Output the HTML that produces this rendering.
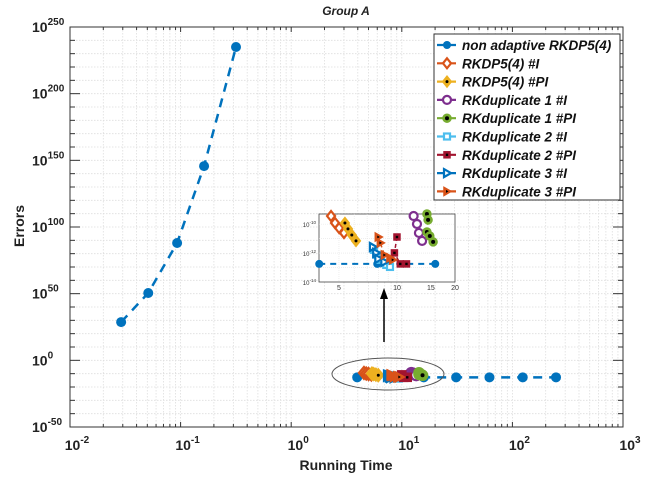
<!DOCTYPE html>
<html><head><meta charset="utf-8"><style>
html,body{margin:0;padding:0;background:#fff;}
svg{display:block;font-family:"Liberation Sans",Arial,sans-serif;}
</style></head><body>
<svg id="chart" width="647" height="485" viewBox="0 0 647 485"></svg>
<script>
// ---- data (errors are log10 exponents) ----
const baseTime = [0.029, 0.051, 0.093, 0.163, 0.317, 3.95, 7.9, 15.8, 31, 62, 124, 248];
const baseErrExp = [28.7, 50.5, 88, 145.7, 235, -12.75, -12.75, -12.75, -12.75, -12.75, -12.75, -12.75];
const baseBreakAfter = 4;
const dp_I_time = [4.55, 4.77, 5.01, 5.31];
const dp_I_err = [-9.44, -9.92, -10.27, -10.61];
const dp_PI_time = [5.37, 5.57, 5.83, 6.13];
const dp_PI_err = [-9.92, -10.33, -10.75, -11.16];
const d1_I_time = [12.2, 12.7, 13.0, 13.5];
const d1_I_err = [-9.44, -9.99, -10.61, -11.16];
const d1_PI_time = [14.3, 14.5, 14.3, 14.8, 15.4];
const d1_PI_err = [-9.3, -9.71, -10.54, -10.82, -11.23];
const d2_I_time = [7.6, 7.9, 8.2, 8.8, 9.2];
const d2_I_err = [-11.78, -12.13, -12.47, -12.82, -12.96];
const d2_PI_time = [10.0, 9.7, 10.4, 11.2];
const d2_PI_err = [-10.89, -11.99, -12.75, -12.75];
const d3_I_time = [7.5, 7.8, 8.0, 8.6];
const d3_I_err = [-11.58, -11.99, -12.4, -12.61];
const d3_PI_time = [8.0, 8.2, 8.6, 9.2, 9.5];
const d3_PI_err = [-10.89, -11.3, -12.13, -12.33, -12.47];
const xTickExp = [-2, -1, 0, 1, 2, 3];
const yTickExp = [-50, 0, 50, 100, 150, 200, 250];
const insetXTicks = [5, 10, 15, 20];
const insetYTickExp = [-10, -12, -14];
const legendLabels = ["non adaptive RKDP5(4)","RKDP5(4) #I","RKDP5(4) #PI","RKduplicate 1 #I","RKduplicate 1 #PI","RKduplicate 2 #I","RKduplicate 2 #PI","RKduplicate 3 #I","RKduplicate 3 #PI"];

const NS = "http://www.w3.org/2000/svg";
const svg = document.getElementById('chart');
function mk(tag, attrs, parent){const e=document.createElementNS(NS,tag);for(const k in attrs)e.setAttribute(k,attrs[k]);(parent||svg).appendChild(e);return e;}

const L=70,R=623,T=27,B=427;
const X=v=>L+(Math.log10(v)+2)/5*(R-L);
const Y=e=>B-(e+50)/300*(B-T);
const iL=319,iR=455,iT=214,iB=282;
const iX=v=>iL+(Math.log10(v)-Math.log10(3.94))/(Math.log10(20)-Math.log10(3.94))*(iR-iL);
const iY=e=>iT+(-9.3-e)/(14-9.3)*(iB-iT);

mk('rect',{x:0,y:0,width:647,height:485,fill:'#fff'});
const grid=mk('g',{stroke:'#dedede','stroke-width':0.8,'stroke-dasharray':'1.5,1.5'});


for(let d=-2;d<3;d++)for(let m=1;m<10;m++){const x=X(m*Math.pow(10,d));if(x>L+0.5)mk('line',{x1:x,y1:T,x2:x,y2:B},grid);}
for(let e=-40;e<250;e+=10){mk('line',{x1:L,y1:Y(e),x2:R,y2:Y(e)},grid);}
const ax=mk('g',{stroke:'#333','stroke-width':1,fill:'none'});


mk('rect',{x:L,y:T,width:R-L,height:B-T},ax);
for(let d=-2;d<3;d++)for(let m=1;m<10;m++){const x=X(m*Math.pow(10,d));const len=m==1?5:3;mk('line',{x1:x,y1:B,x2:x,y2:B-len},ax);mk('line',{x1:x,y1:T,x2:x,y2:T+len},ax);}
for(let e=-40;e<250;e+=10){const len=e%50==0?10:5;mk('line',{x1:L,y1:Y(e),x2:L+len,y2:Y(e)},ax);mk('line',{x1:R,y1:Y(e),x2:R-len,y2:Y(e)},ax);}
xTickExp.forEach(e=>{const t=mk('text',{x:X(Math.pow(10,e))+7,y:450,'text-anchor':'middle','font-size':14,'font-weight':'bold',fill:'#222'});


t.innerHTML='10<tspan dy="-7" font-size="10">'+e+'</tspan>';});
yTickExp.forEach(e=>{const t=mk('text',{x:32,y:Y(e)+5,'text-anchor':'start','font-size':14,'font-weight':'bold',fill:'#222'});


t.innerHTML='10<tspan dy="-7" font-size="10">'+e+'</tspan>';});
let t=mk('text',{x:346,y:15,'text-anchor':'middle','font-size':12,'font-weight':'bold','font-style':'italic',fill:'#222'});t.textContent='Group A';


t=mk('text',{x:346,y:470,'text-anchor':'middle','font-size':14,'font-weight':'bold',fill:'#222'});t.textContent='Running Time';


t=mk('text',{x:0,y:0,transform:'translate(24,226) rotate(-90)','text-anchor':'middle','font-size':14,'font-weight':'bold',fill:'#222'});t.textContent='Errors';



const C={blue:'#0072BD',orange:'#D95319',yellow:'#EDB120',purple:'#7E2F8E',green:'#77AC30',cyan:'#4DBEEE',red:'#A2142F'};
function marker(g,type,x,y,col,s){
  s=s||4;
  if(type==='dot')mk('circle',{cx:x,cy:y,r:s,fill:col},g);
  else if(type==='diamond')mk('polygon',{points:`${x},${y-s-1} ${x+s},${y} ${x},${y+s+1} ${x-s},${y}`,fill:'#fff',stroke:col,'stroke-width':2.2},g);
  else if(type==='diamondPI'){mk('polygon',{points:`${x},${y-s-1} ${x+s},${y} ${x},${y+s+1} ${x-s},${y}`,fill:col,stroke:col,'stroke-width':2},g);mk('circle',{cx:x,cy:y,r:1.5,fill:'#000'},g);}
  else if(type==='circle')mk('circle',{cx:x,cy:y,r:s,fill:'#fff',stroke:col,'stroke-width':2.2},g);
  else if(type==='circlePI'){mk('circle',{cx:x,cy:y,r:s,fill:col,stroke:col,'stroke-width':1.5},g);mk('circle',{cx:x,cy:y,r:2,fill:'#000'},g);}
  else if(type==='square')mk('rect',{x:x-s+1,y:y-s+1,width:2*s-2,height:2*s-2,fill:'#fff',stroke:col,'stroke-width':2.2},g);
  else if(type==='squarePI'){mk('rect',{x:x-s+1,y:y-s+1,width:2*s-2,height:2*s-2,fill:col,stroke:col,'stroke-width':1.5},g);mk('rect',{x:x-1.2,y:y-1.2,width:2.4,height:2.4,fill:'#000'},g);}
  else if(type==='tri')mk('polygon',{points:`${x-s+1},${y-s} ${x+s},${y} ${x-s+1},${y+s}`,fill:'#fff',stroke:col,'stroke-width':2.2},g);
  else if(type==='triPI'){mk('polygon',{points:`${x-s+1},${y-s} ${x+s},${y} ${x-s+1},${y+s}`,fill:col,stroke:col,'stroke-width':1.5},g);mk('polygon',{points:`${x-1},${y-1.5} ${x+1.5},${y} ${x-1},${y+1.5}`,fill:'#000'},g);}
}
const series=[
 {n:'rkdp-i',xs:dp_I_time,ys:dp_I_err,t:'diamond',c:C.orange},
 {n:'rkdp-pi',xs:dp_PI_time,ys:dp_PI_err,t:'diamondPI',c:C.yellow},
 {n:'rkdup1-i',xs:d1_I_time,ys:d1_I_err,t:'circle',c:C.purple},
 {n:'rkdup1-pi',xs:d1_PI_time,ys:d1_PI_err,t:'circlePI',c:C.green},
 {n:'rkdup2-i',xs:d2_I_time,ys:d2_I_err,t:'square',c:C.cyan},
 {n:'rkdup2-pi',xs:d2_PI_time,ys:d2_PI_err,t:'squarePI',c:C.red},
 {n:'rkdup3-i',xs:d3_I_time,ys:d3_I_err,t:'tri',c:C.blue},
 {n:'rkdup3-pi',xs:d3_PI_time,ys:d3_PI_err,t:'triPI',c:C.orange}
];
function drawAll(fx,fy,s,lw,inset){
  const g=mk('g',{});
  
  
  const segs=[[],[]];
  baseTime.forEach((v,i)=>{
    const x=fx(v),y=fy(baseErrExp[i]);
    if(inset&&(v<3||x>iR+1))return;
    segs[i>baseBreakAfter?1:0].push([x,y]);
  });
  segs.forEach(pts=>{
    if(pts.length>1)mk('polyline',{points:pts.map(p=>p.join(',')).join(' '),fill:'none',stroke:C.blue,'stroke-width':lw,'stroke-dasharray':inset?'6,5':'9,7'},g);
    pts.forEach(p=>marker(g,'dot',p[0],p[1],C.blue,s));
  });
  series.forEach(sr=>{
    const sg=mk('g',{},g);
    
    
    const p=sr.xs.map((v,i)=>[fx(v),fy(sr.ys[i])]);
    mk('polyline',{points:p.map(q=>q.join(',')).join(' '),fill:'none',stroke:sr.c,'stroke-width':1.5,'stroke-dasharray':'4,3'},sg);
    p.forEach(q=>marker(sg,sr.t,q[0],q[1],sr.c,s));
  });
}
drawAll(X,Y,5,2.5,false);

mk('ellipse',{cx:388,cy:374,rx:56,ry:16,fill:'none',stroke:'#555','stroke-width':1});
mk('line',{x1:384,y1:342,x2:384,y2:298,stroke:'#000','stroke-width':1.5});
mk('polygon',{points:'384,288 380,299 388,299',fill:'#000'});

mk('rect',{x:iL,y:iT,width:iR-iL,height:iB-iT,fill:'#fff',stroke:'#444','stroke-width':0.8});
const ig=mk('g',{stroke:'#e4e4e4','stroke-width':0.6,'stroke-dasharray':'1,1'});
[5,6,7,8,9,10,20].forEach(v=>{const x=iX(v);if(x>iL&&x<iR)mk('line',{x1:x,y1:iT,x2:x,y2:iB},ig);});
[-10,-11,-12,-13].forEach(e=>mk('line',{x1:iL,y1:iY(e),x2:iR,y2:iY(e)},ig));
drawAll(iX,iY,4,2,true);
insetXTicks.forEach(v=>{const tt=mk('text',{x:iX(v),y:iB+8,'text-anchor':'middle','font-size':7,fill:'#333'});tt.textContent=v;

});
insetYTickExp.forEach(e=>{const tt=mk('text',{x:iL-3,y:iY(e)+3,'text-anchor':'end','font-size':6,fill:'#333'});tt.innerHTML='10<tspan dy="-3" font-size="4.5">'+e+'</tspan>';

});

const lg=mk('g',{});


mk('rect',{x:434,y:34,width:186,height:166,fill:'#fff',stroke:'#333','stroke-width':1},lg);
const types=['dot','diamond','diamondPI','circle','circlePI','square','squarePI','tri','triPI'];
const cols=[C.blue,C.orange,C.yellow,C.purple,C.green,C.cyan,C.red,C.blue,C.orange];
legendLabels.forEach((lab,i)=>{
  const y=45+i*18.3;
  const eg=mk('g',{},lg);
  
  
  mk('line',{x1:437,y1:y,x2:459,y2:y,stroke:cols[i],'stroke-width':2.2,'stroke-dasharray':'8,3'},eg);
  marker(eg,types[i],447,y,cols[i],4);
  const tx=mk('text',{x:462,y:y+5,'font-size':13.5,'font-weight':'bold','font-style':'italic',fill:'#111'},eg);
  tx.textContent=lab;
});
</script>
</body></html>
